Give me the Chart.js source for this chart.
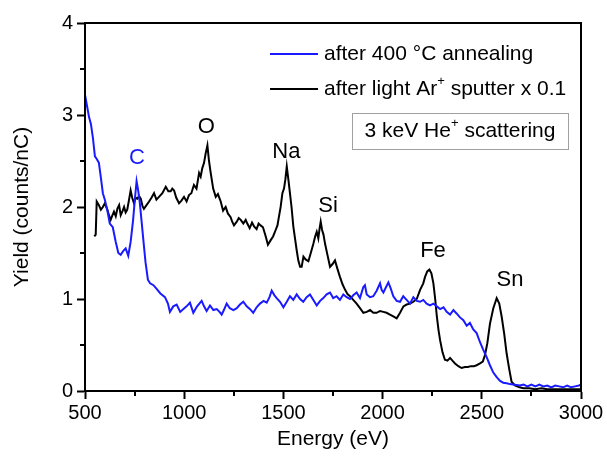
<!DOCTYPE html>
<html>
<head>
<meta charset="utf-8">
<script src="https://cdn.jsdelivr.net/npm/chart.js@4.4.1/dist/chart.umd.min.js"></script>
<style>
  html, body { margin: 0; padding: 0; background: #fff; }
  canvas { display: block; }
</style>
</head>
<body>
<canvas id="chart" width="607" height="460"></canvas>
<script>
// after 400 °C annealing (blue)
const annealE = [500,510,520,530,540,550,560,570,580,590,600,612,625,640,655,668,680,692,705,718,730,742,752,760,768,776,785,795,805,817,828,845,861,880,903,918,928,945,962,980,996,1012,1029,1046,1065,1088,1100,1113,1130,1147,1164,1178,1189,1200,1214,1230,1248,1265,1281,1298,1315,1332,1348,1365,1382,1400,1416,1430,1441,1455,1466,1483,1500,1517,1533,1550,1567,1584,1600,1617,1634,1651,1668,1685,1701,1718,1735,1751,1768,1785,1802,1819,1836,1852,1869,1886,1903,1911,1920,1937,1953,1970,1987,1995,2004,2015,2029,2040,2054,2071,2088,2104,2121,2138,2155,2172,2189,2205,2222,2239,2256,2273,2290,2307,2323,2340,2357,2374,2390,2407,2424,2440,2457,2474,2491,2507,2524,2541,2558,2575,2592,2608,2625,2642,2658,2675,2692,2710,2730,2750,2770,2790,2810,2830,2850,2870,2890,2910,2930,2950,2970,2990,3000];
const annealY = [3.22,3.10,2.98,2.90,2.75,2.55,2.52,2.48,2.32,2.15,2.08,1.97,1.82,1.78,1.62,1.50,1.48,1.52,1.55,1.47,1.62,1.85,2.10,2.28,2.18,2.05,1.85,1.62,1.40,1.21,1.17,1.15,1.11,1.06,1.02,0.95,0.86,0.92,0.94,0.86,0.89,0.92,0.96,0.85,0.92,0.98,0.92,0.87,0.93,0.88,0.89,0.86,0.83,0.88,0.95,0.90,0.88,0.90,0.94,0.97,0.92,0.89,0.85,0.91,0.95,0.98,0.96,1.02,1.09,1.04,1.01,0.97,0.91,0.97,1.03,0.99,1.05,1.00,0.97,1.02,1.05,0.99,0.93,0.98,1.01,1.05,1.07,1.01,1.03,0.99,1.05,1.02,1.00,1.04,1.07,1.01,1.13,1.15,1.05,1.02,1.03,1.09,1.17,1.10,1.07,1.12,1.18,1.12,1.03,0.98,0.97,1.03,0.99,0.95,1.02,0.98,0.97,0.99,0.95,0.93,0.95,0.92,0.89,0.91,0.86,0.83,0.88,0.84,0.80,0.77,0.71,0.74,0.67,0.63,0.53,0.45,0.37,0.28,0.20,0.15,0.11,0.09,0.085,0.075,0.07,0.065,0.06,0.07,0.05,0.07,0.05,0.07,0.05,0.06,0.04,0.06,0.05,0.04,0.06,0.04,0.05,0.06,0.07];

// after light Ar+ sputter x 0.1 (black)
const sputterE = [547,554,559,570,580,590,600,613,622,629,638,646,655,663,672,680,690,697,705,713,722,730,738,747,755,764,772,781,790,797,810,823,835,848,860,873,890,907,920,932,940,949,960,974,986,999,1012,1024,1036,1049,1062,1075,1083,1091,1100,1108,1117,1125,1133,1146,1159,1170,1184,1196,1209,1220,1234,1242,1251,1265,1275,1285,1298,1310,1318,1330,1342,1352,1365,1375,1385,1397,1411,1422,1436,1448,1461,1470,1478,1486,1495,1503,1510,1517,1525,1533,1541,1550,1559,1567,1575,1584,1592,1601,1612,1626,1638,1651,1660,1668,1676,1682,1688,1695,1702,1710,1722,1735,1748,1760,1772,1785,1798,1811,1824,1836,1852,1869,1886,1903,1920,1937,1953,1970,1987,2004,2020,2037,2054,2071,2088,2105,2121,2138,2155,2172,2189,2205,2214,2225,2236,2246,2256,2265,2273,2282,2290,2302,2314,2327,2340,2352,2365,2382,2398,2415,2430,2445,2460,2474,2491,2505,2516,2528,2541,2558,2575,2588,2600,2613,2625,2638,2650,2667,2690,2710,2740,2770,2800,2830,2860,2900,2940,2980,3000];
const sputterY = [1.68,1.70,2.06,2.02,1.97,2.00,2.04,1.97,1.90,1.86,1.91,1.95,1.90,1.98,2.02,1.91,1.96,2.00,1.94,1.97,2.08,2.18,2.10,2.04,2.10,2.09,2.12,2.09,2.01,1.98,2.02,2.06,2.10,2.15,2.08,2.11,2.15,2.22,2.17,2.17,2.20,2.18,2.10,2.04,2.07,2.11,2.06,2.13,2.15,2.24,2.20,2.37,2.33,2.42,2.48,2.58,2.67,2.50,2.38,2.20,2.11,2.14,2.06,1.96,2.00,1.93,1.89,1.84,1.80,1.84,1.88,1.86,1.82,1.86,1.82,1.77,1.83,1.79,1.76,1.82,1.80,1.78,1.68,1.59,1.64,1.68,1.75,1.80,1.90,2.00,2.15,2.20,2.30,2.44,2.30,2.15,2.00,1.79,1.65,1.53,1.42,1.35,1.35,1.46,1.43,1.41,1.50,1.60,1.68,1.73,1.66,1.76,1.84,1.75,1.70,1.60,1.48,1.35,1.38,1.42,1.33,1.24,1.16,1.10,1.05,1.03,0.99,0.95,0.90,0.85,0.86,0.88,0.85,0.85,0.87,0.86,0.85,0.83,0.81,0.79,0.85,0.92,0.94,0.95,0.97,1.00,1.10,1.17,1.24,1.30,1.32,1.28,1.17,1.00,0.82,0.66,0.55,0.42,0.34,0.33,0.36,0.33,0.30,0.27,0.25,0.26,0.26,0.27,0.27,0.28,0.30,0.32,0.39,0.52,0.73,0.90,1.01,0.95,0.81,0.62,0.41,0.24,0.10,0.06,0.04,0.03,0.03,0.02,0.03,0.02,0.02,0.02,0.02,0.02,0.02];

// element labels above the peaks
const peakNames = ['C', 'O', 'Na', 'Si', 'Fe', 'Sn'];
const peakE = [762, 1112, 1515, 1725, 2254, 2642];
const peakY = [2.53, 2.87, 2.60, 2.01, 1.52, 1.21];
const peakColors = ['#1a1aff', '#000', '#000', '#000', '#000', '#000'];

const FONT = '"Liberation Sans", Arial, sans-serif';
const BLUE = '#1a1aff';

const toPoints = (xs, ys) => xs.map((e, i) => ({ x: e, y: ys[i] }));

// draws runs of text where some pieces are superscripts
function drawRich(ctx, parts, x, y, size, align) {
    const widthOf = p => {
        ctx.font = (p.sup ? Math.round(size * 0.6) : size) + 'px ' + FONT;
        return ctx.measureText(p.t).width;
    };
    const total = parts.reduce((s, p) => s + widthOf(p), 0);
    let cx = align === 'center' ? x - total / 2 : x;
    ctx.textAlign = 'left';
    ctx.textBaseline = 'middle';
    parts.forEach(p => {
        const w = widthOf(p);
        ctx.fillText(p.t, cx, p.sup ? y - size * 0.38 : y);
        cx += w;
    });
}

const overlay = {
    id: 'overlay',
    afterDraw(chart) {
        const { ctx, chartArea: a, scales: { x, y } } = chart;
        ctx.save();

        // closed frame
        ctx.strokeStyle = '#000';
        ctx.lineWidth = 2;
        ctx.strokeRect(a.left, a.top, a.right - a.left, a.bottom - a.top);

        // minor ticks
        ctx.beginPath();
        for (let v = 750; v < 3000; v += 500) {
            const px = Math.round(x.getPixelForValue(v));
            ctx.moveTo(px, a.bottom);
            ctx.lineTo(px, a.bottom + 5);
        }
        for (let v = 0.5; v < 4; v += 1) {
            const py = Math.round(y.getPixelForValue(v));
            ctx.moveTo(a.left - 5, py);
            ctx.lineTo(a.left, py);
        }
        ctx.stroke();

        // legend
        ctx.strokeStyle = BLUE;
        ctx.beginPath(); ctx.moveTo(270, 54); ctx.lineTo(318, 54); ctx.stroke();
        ctx.strokeStyle = '#000';
        ctx.beginPath(); ctx.moveTo(270, 89); ctx.lineTo(318, 89); ctx.stroke();
        ctx.fillStyle = '#000';
        drawRich(ctx, [{ t: 'after 400 °C annealing' }], 324, 54, 21);
        drawRich(ctx, [{ t: 'after light Ar' }, { t: '+', sup: true }, { t: ' sputter x 0.1' }], 324, 89, 21);

        // info box
        ctx.strokeStyle = '#a0a0a0';
        ctx.lineWidth = 1;
        ctx.strokeRect(352.5, 113.5, 216, 36);
        ctx.fillStyle = '#000';
        drawRich(ctx, [{ t: '3 keV He' }, { t: '+', sup: true }, { t: ' scattering' }], 460, 131, 21, 'center');

        // peak labels
        peakNames.forEach((n, i) => {
            ctx.fillStyle = peakColors[i];
            drawRich(ctx, [{ t: n }], x.getPixelForValue(peakE[i]), y.getPixelForValue(peakY[i]), 22, 'center');
        });
        ctx.restore();
    }
};

const axisFont = { family: FONT, size: 20 };
const titleFont = { family: FONT, size: 21 };

new Chart(document.getElementById('chart'), {
    type: 'scatter',
    data: {
        datasets: [
            {
                label: 'after 400 °C annealing',
                data: toPoints(annealE, annealY),
                showLine: true,
                borderColor: BLUE,
                borderWidth: 2,
                pointRadius: 0,
                tension: 0
            },
            {
                label: 'after light Ar+ sputter x 0.1',
                data: toPoints(sputterE, sputterY),
                showLine: true,
                borderColor: '#000',
                borderWidth: 2,
                pointRadius: 0,
                tension: 0
            }
        ]
    },
    options: {
        responsive: false,
        animation: false,
        devicePixelRatio: 1,
        layout: { padding: { top: 23, right: 26, left: 0, bottom: 0 } },
        plugins: { legend: { display: false }, tooltip: { enabled: false } },
        scales: {
            x: {
                type: 'linear',
                min: 500,
                max: 3000,
                afterFit: s => { s.height = 69; },
                ticks: { stepSize: 500, color: '#000', font: axisFont, padding: 2, maxRotation: 0, callback: v => String(v) },
                grid: { drawOnChartArea: false, tickLength: 8, tickColor: '#000', tickWidth: 2 },
                border: { display: true, color: '#000', width: 2 },
                title: { display: true, text: 'Energy (eV)', color: '#000', font: titleFont, padding: { top: 0, bottom: 8 } }
            },
            y: {
                min: 0,
                max: 4,
                afterFit: s => { s.width = 85; },
                ticks: { stepSize: 1, color: '#000', font: axisFont, padding: 4, callback: v => String(v) },
                grid: { drawOnChartArea: false, tickLength: 8, tickColor: '#000', tickWidth: 2 },
                border: { display: true, color: '#000', width: 2 },
                title: { display: true, text: 'Yield (counts/nC)', color: '#000', font: titleFont, padding: { top: 10, bottom: 0 } }
            }
        }
    },
    plugins: [overlay]
});
</script>
</body>
</html>
